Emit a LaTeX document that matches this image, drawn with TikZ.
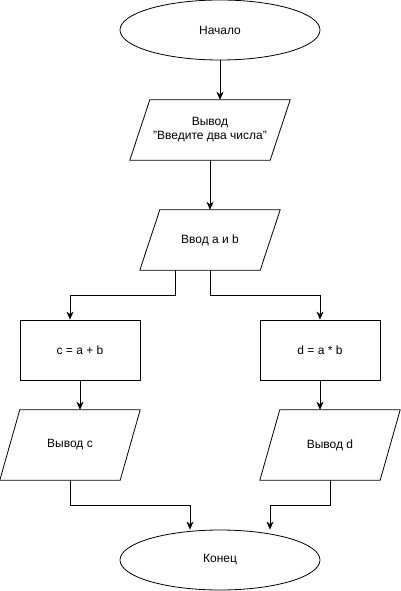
\documentclass[tikz,border=0pt]{standalone}
\usepackage{fontspec}
\setmainfont{Liberation Sans}
\usetikzlibrary{arrows.meta,shapes.geometric}

\begin{document}
\begin{tikzpicture}[
  x=1pt, y=1pt,
  font=\fontsize{12}{14}\selectfont,
  terminal/.style={ellipse, draw=black, line width=0.8pt, minimum width=200pt, minimum height=60pt, inner sep=0pt},
  io/.style={rectangle, minimum width=140pt, minimum height=60pt, inner sep=0pt, align=center},
  outline/.style={draw=black, line width=0.8pt, line join=miter},
  process/.style={rectangle, draw=black, line width=0.8pt, minimum width=120pt, minimum height=60pt, inner sep=0pt},
  arrow/.style={-{Stealth[length=8pt,width=7pt,inset=2.5pt]}, draw=black, line width=0.8pt}
]
\useasboundingbox (0,0) rectangle (401,-591);
% blocks, top to bottom
\node[terminal] (start) at (220,-30) {Начало};
\node[io, minimum width=160pt] (out1) at (210,-130) {Вывод\\"Введите два числа"};
\node[io] (in) at (210,-240) {Ввод a и b};
\node[process] (sum) at (80,-350) {c = a + b};
\node[process] (prod) at (320,-350) {d = a * b};
\node[io, minimum height=70pt] (outc) at (70,-445) {Вывод c};
\node[io, minimum height=70pt] (outd) at (330,-445) {Вывод d};
\node[terminal] (end) at (220,-560) {Конец};
% parallelogram outlines
\foreach \n in {out1,in,outc,outd}
  \draw[outline] ([xshift=20pt]\n.north west) -- (\n.north east) -- ([xshift=-20pt]\n.south east) -- (\n.south west) -- cycle;
% connectors
\draw[arrow] (start.south) -- (start.south |- out1.north);
\draw[arrow] (out1) -- (in);
\draw[arrow] ([xshift=-35pt]in.south) -- ++(0,-25) -| ([xshift=-10pt]sum.north);
\draw[arrow] (in.south) -- ++(0,-25) -| (prod.north);
\draw[arrow] (sum.south) -- (sum.south |- outc.north);
\draw[arrow] (prod.south) -- (prod.south |- outd.north);
\draw[arrow] (outc.south) -- ++(0,-25) -| ([xshift=-30pt]end.north);
\draw[arrow] (outd.south) -- ++(0,-25) -| ([xshift=50pt]end.north);
\end{tikzpicture}
\end{document}
